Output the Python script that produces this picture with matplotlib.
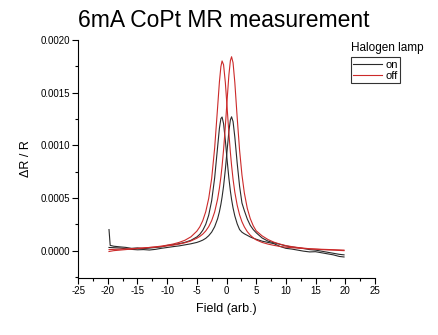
import matplotlib
matplotlib.use("Agg")
import matplotlib.pyplot as plt
from matplotlib.lines import Line2D
from matplotlib.ticker import MultipleLocator

plt.rcParams["font.family"] = ["Liberation Sans", "DejaVu Sans"]

# Field values shared by the sweeps (arb. units)
field = [-19.8, -19, -18, -17, -16, -15, -14, -13, -12, -11, -10, -9, -8, -7, -6,
         -5, -4.5, -4, -3.5, -3, -2.5, -2, -1.5, -1.2, -0.95, -0.75, -0.5, -0.2,
         0.1, 0.4, 0.65, 0.85, 1.1, 1.4, 1.8, 2.2, 2.6, 3, 3.5, 4, 4.5, 5,
         6, 7, 8, 9, 10, 11, 12, 13, 14, 15, 16, 17, 18, 19, 19.8]
# first "on" sweep has an extra point right after the start
field_on_a = [-19.8, -19.6] + field[1:]

# dR/R, lamp off (two sweep directions)
off_a = [-0.08e-4, 0.00e-4, 0.05e-4, 0.10e-4, 0.15e-4, 0.20e-4, 0.25e-4, 0.30e-4, 0.36e-4,
         0.43e-4, 0.52e-4, 0.63e-4, 0.78e-4, 0.99e-4, 1.31e-4, 1.85e-4, 2.26e-4, 2.85e-4,
         3.70e-4, 4.96e-4, 6.86e-4, 9.74e-4, 13.62e-4, 16.00e-4, 17.46e-4, 18.00e-4,
         17.64e-4, 15.96e-4, 13.57e-4, 11.13e-4, 9.33e-4, 8.09e-4, 6.78e-4, 5.54e-4,
         4.30e-4, 3.40e-4, 2.74e-4, 2.26e-4, 1.80e-4, 1.47e-4, 1.22e-4, 1.02e-4,
         0.78e-4, 0.62e-4, 0.50e-4, 0.40e-4, 0.33e-4, 0.28e-4, 0.24e-4, 0.20e-4,
         0.17e-4, 0.15e-4, 0.13e-4, 0.11e-4, 0.09e-4, 0.07e-4, 0.05e-4]
off_b = [0.10e-4, 0.12e-4, 0.14e-4, 0.16e-4, 0.19e-4, 0.22e-4, 0.26e-4, 0.30e-4, 0.34e-4,
         0.39e-4, 0.45e-4, 0.52e-4, 0.62e-4, 0.75e-4, 0.92e-4, 1.18e-4, 1.35e-4, 1.57e-4,
         1.87e-4, 2.28e-4, 2.85e-4, 3.67e-4, 4.90e-4, 5.92e-4, 6.99e-4, 8.02e-4,
         9.56e-4, 11.80e-4, 14.30e-4, 16.68e-4, 18.03e-4, 18.40e-4, 17.83e-4, 15.94e-4,
         12.60e-4, 9.53e-4, 7.18e-4, 5.48e-4, 4.01e-4, 3.04e-4, 2.36e-4, 1.88e-4,
         1.40e-4, 1.05e-4, 0.80e-4, 0.62e-4, 0.48e-4, 0.38e-4, 0.30e-4, 0.24e-4,
         0.18e-4, 0.14e-4, 0.10e-4, 0.07e-4, 0.05e-4, 0.02e-4, 0.00e-4]

# dR/R, lamp on (two sweep directions)
on_a = [2.00e-4, 0.50e-4, 0.42e-4, 0.36e-4, 0.31e-4, 0.22e-4, 0.26e-4, 0.19e-4, 0.24e-4,
        0.30e-4, 0.35e-4, 0.50e-4, 0.57e-4, 0.66e-4, 0.79e-4, 0.98e-4, 1.30e-4, 1.55e-4,
        1.93e-4, 2.50e-4, 3.37e-4, 4.75e-4, 6.90e-4, 9.85e-4, 11.60e-4, 12.53e-4,
        12.68e-4, 12.06e-4, 10.47e-4, 8.59e-4, 6.86e-4, 5.66e-4, 4.86e-4, 4.05e-4,
        3.29e-4, 2.54e-4, 2.00e-4, 1.75e-4, 1.60e-4, 1.45e-4, 1.30e-4, 1.18e-4,
        1.08e-4, 0.90e-4, 0.78e-4, 0.66e-4, 0.40e-4, 0.22e-4, 0.15e-4, 0.05e-4,
        -0.05e-4, -0.12e-4, -0.10e-4, -0.20e-4, -0.30e-4, -0.40e-4, -0.55e-4, -0.60e-4]
on_b = [0.30e-4, 0.28e-4, 0.25e-4, 0.18e-4, 0.12e-4, 0.08e-4, 0.10e-4, 0.06e-4, 0.12e-4,
        0.22e-4, 0.30e-4, 0.38e-4, 0.45e-4, 0.55e-4, 0.65e-4, 0.78e-4, 0.88e-4, 1.00e-4,
        1.17e-4, 1.42e-4, 1.76e-4, 2.27e-4, 3.03e-4, 3.69e-4, 4.39e-4, 5.08e-4,
        6.11e-4, 7.69e-4, 9.53e-4, 11.34e-4, 12.41e-4, 12.70e-4, 12.25e-4, 10.77e-4,
        8.28e-4, 6.11e-4, 4.52e-4, 3.80e-4, 3.00e-4, 2.40e-4, 2.00e-4, 1.70e-4,
        1.20e-4, 0.90e-4, 0.75e-4, 0.60e-4, 0.45e-4, 0.35e-4, 0.28e-4, 0.20e-4,
        0.10e-4, 0.05e-4, -0.05e-4, -0.15e-4, -0.25e-4, -0.35e-4, -0.40e-4]

x_ticks = [-25, -20, -15, -10, -5, 0, 5, 10, 15, 20, 25]
y_ticks = [0.0000, 0.0005, 0.0010, 0.0015, 0.0020]

C_ON = "#2a2a2a"
C_OFF = "#cc2a2a"
LW = 0.8

fig = plt.figure(figsize=(4.39, 3.35), dpi=100)
ax = fig.add_axes([0.178, 0.170, 0.676, 0.711])

ax.plot(field_on_a, on_a, color=C_ON, lw=LW)
ax.plot(field, on_b, color=C_ON, lw=LW)
ax.plot(field, off_a, color=C_OFF, lw=LW)
ax.plot(field, off_b, color=C_OFF, lw=LW)

ax.set_xlim(-25, 25)
ax.set_ylim(-0.00026, 0.0020)
ax.set_xticks(x_ticks)
ax.set_xticklabels([str(v) for v in x_ticks])
ax.set_yticks(y_ticks)
ax.set_yticklabels([f"{v:.4f}" for v in y_ticks])
ax.xaxis.set_minor_locator(MultipleLocator(2.5))
ax.yaxis.set_minor_locator(MultipleLocator(0.00025))

for side in ("top", "right"):
    ax.spines[side].set_visible(False)
for side in ("left", "bottom"):
    ax.spines[side].set_linewidth(0.8)
ax.tick_params(which="major", direction="out", length=4, width=0.8, labelsize=7, pad=2)
ax.tick_params(which="minor", direction="out", length=2, width=0.8)

ax.set_xlabel("Field (arb.)", fontsize=9, labelpad=5)
ax.set_ylabel("\u0394R / R", fontsize=9, labelpad=6)

fig.text(0.51, 0.94, "6mA CoPt MR measurement", fontsize=16.5, ha="center", va="center")

handles = [Line2D([], [], color=C_ON, lw=LW), Line2D([], [], color=C_OFF, lw=LW)]
leg = fig.legend(handles, ["on", "off"], loc="upper left", bbox_to_anchor=(0.799, 0.829),
                 bbox_transform=fig.transFigure, frameon=True, fancybox=False,
                 edgecolor="black", fontsize=8, handlelength=2.6, handletextpad=0.3,
                 labelspacing=0.1, borderpad=0.2, borderaxespad=0)
leg.get_frame().set_linewidth(0.8)
fig.text(0.800, 0.857, "Halogen lamp", fontsize=8.5, ha="left", va="center")

fig.savefig("out.png", dpi=100)
